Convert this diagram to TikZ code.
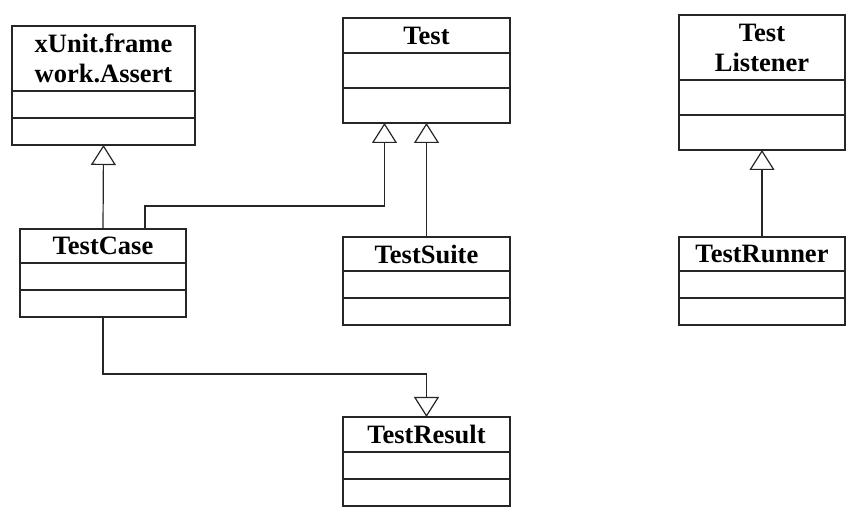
\documentclass[tikz,border=0pt]{standalone}
\usepackage{fontspec}
\setmainfont{Liberation Serif}
\usetikzlibrary{positioning, arrows.meta}
\tikzstyle{classname} = [rectangle, anchor=north west, minimum width=167pt, minimum height=34pt, inner sep=0pt, outer sep=0pt, align=center, text centered, draw=black!85, line width=1.2pt, font=\fontsize{26.5}{30}\selectfont\bfseries]
\tikzstyle{compart} = [rectangle, minimum width=167pt, minimum height=27pt, inner sep=0pt, outer sep=0pt, draw=black!85, line width=1.2pt]
\tikzstyle{inherit} = [line width=1.2pt, draw=black!85, -{Triangle[open, length=20pt, width=25pt]}]
\begin{document}
\begin{tikzpicture}[x=1pt, y=-1pt]
\useasboundingbox (0,0) rectangle (863,518);
% classes
\node (xu)  [classname, minimum width=183pt, minimum height=65pt] at (12,26) {xUnit.frame\\work.Assert};
\node (xu1) [compart, minimum width=183pt, below=0pt of xu] {};
\node (xu2) [compart, minimum width=183pt, below=0pt of xu1] {};
\node (tst)  [classname, minimum height=35pt] at (343,18) {Test};
\node (tst1) [compart, minimum height=35pt, below=0pt of tst] {};
\node (tst2) [compart, minimum height=35pt, below=0pt of tst1] {};
\node (tl)  [classname, minimum width=166pt, minimum height=65pt] at (679,15) {Test\\Listener};
\node (tl1) [compart, minimum width=166pt, minimum height=35pt, below=0pt of tl] {};
\node (tl2) [compart, minimum width=166pt, minimum height=35pt, below=0pt of tl1] {};
\node (tc)  [classname, minimum width=166pt] at (20,229) {TestCase};
\node (tc1) [compart, minimum width=166pt, below=0pt of tc] {};
\node (tc2) [compart, minimum width=166pt, below=0pt of tc1] {};
\node (ts)  [classname] at (343,237) {TestSuite};
\node (ts1) [compart, below=0pt of ts] {};
\node (ts2) [compart, below=0pt of ts1] {};
\node (trn)  [classname, minimum width=166pt] at (679,237) {TestRunner};
\node (trn1) [compart, minimum width=166pt, below=0pt of trn] {};
\node (trn2) [compart, minimum width=166pt, below=0pt of trn1] {};
\node (tres)  [classname, minimum height=35pt] at (343,417) {TestResult};
\node (tres1) [compart, below=0pt of tres] {};
\node (tres2) [compart, below=0pt of tres1] {};
% connectors
\draw [inherit] (tc.north) -- (xu2.south);
\draw [inherit] ([xshift=42pt]tc.north) -- ++(0,23pt) -| ([xshift=-42pt]tst2.south);
\draw [inherit] (ts.north) -- (tst2.south);
\draw [inherit] (trn.north) -- (tl2.south);
\draw [inherit] (tc2.south) -- ++(0,-57pt) -| (tres.north);
\end{tikzpicture}
\end{document}
